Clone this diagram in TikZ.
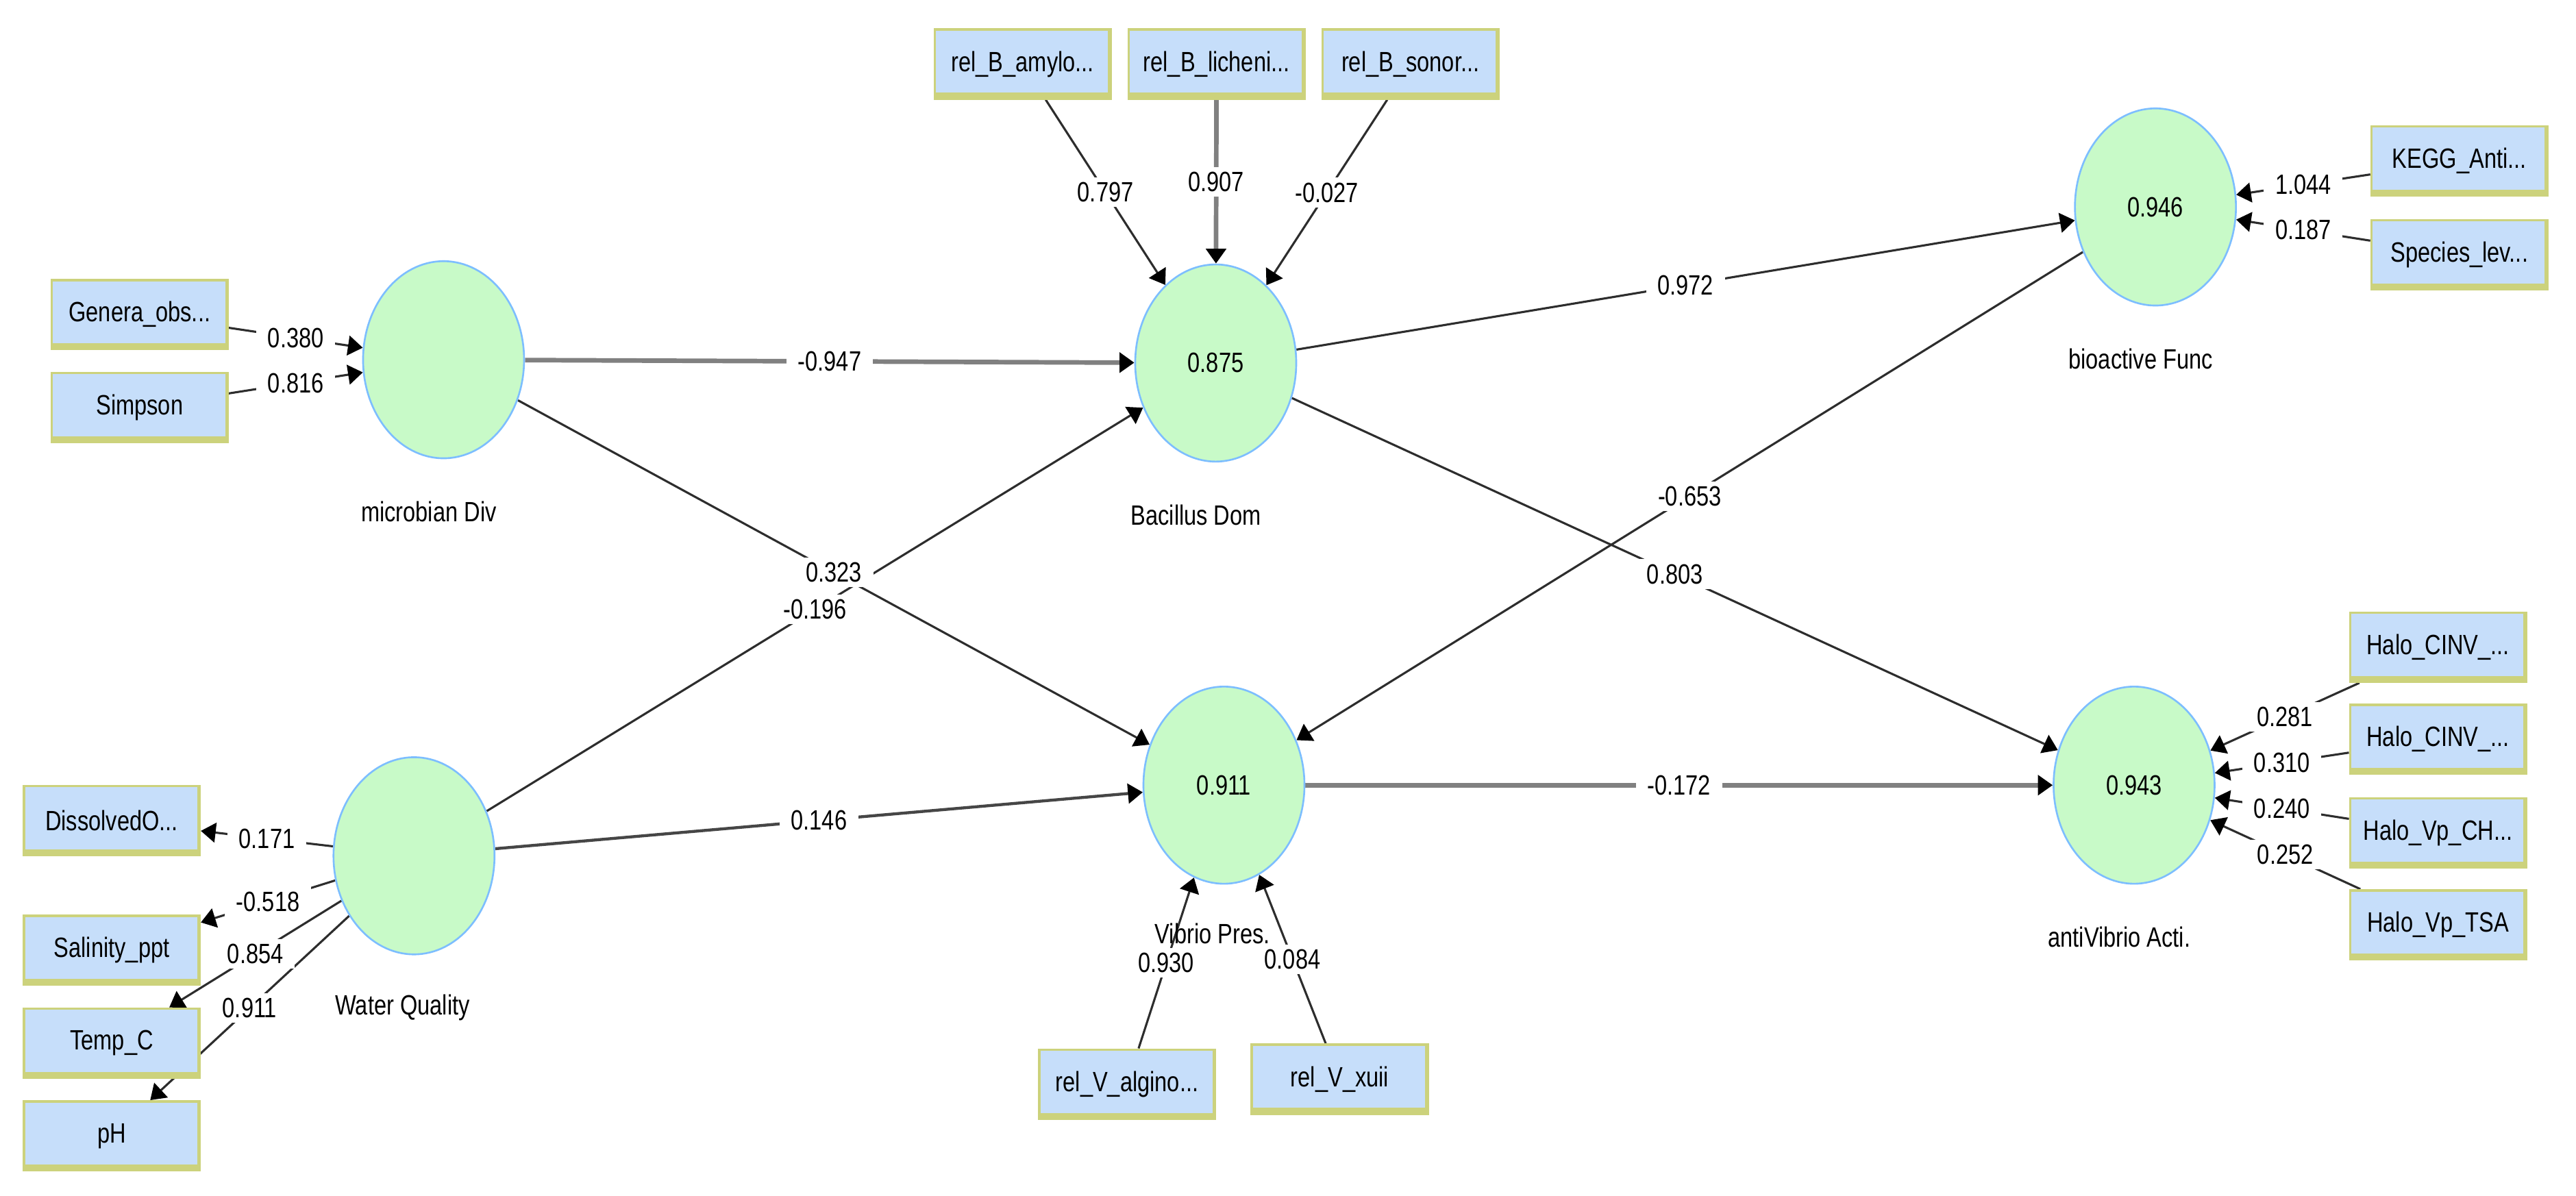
\documentclass[tikz,border=0pt]{standalone}
\usepackage{fontspec}
\setmainfont{Liberation Sans}[FakeStretch=0.8]
\usetikzlibrary{arrows.meta,calc,shapes.geometric}
\definecolor{lvfill}{RGB}{200,250,200}
\definecolor{lvdraw}{RGB}{125,190,255}
\definecolor{mvfill}{RGB}{198,222,250}
\definecolor{mvdraw}{RGB}{204,210,124}
\definecolor{lnthincol}{RGB}{45,45,45}
\definecolor{lnmedcol}{RGB}{70,70,70}
\definecolor{lnthickcol}{RGB}{128,128,128}
\pgfdeclarelayer{bg}
\pgfdeclarelayer{edges}
\pgfsetlayers{bg,edges,main}
\newcommand\plsedge[4]{%
  \begin{pgfonlayer}{edges}\draw[#1] (#2) -- (#3);\end{pgfonlayer}
  \path (#2) -- node[lbl]{#4} (#3);}
\begin{document}
\begin{tikzpicture}[x=1pt,y=-1pt,font=\fontsize{17}{20}\selectfont,
  lv/.style={ellipse, draw=lvdraw, line width=1.1pt, fill=lvfill, minimum width=98pt, minimum height=120pt, inner sep=0pt},
  mv/.style={rectangle, draw=mvdraw, line width=1.5pt, fill=mvfill, minimum width=107pt, minimum height=42pt, inner sep=0pt,
    path picture={\fill[mvdraw] ([yshift=3.5pt]path picture bounding box.south west) rectangle (path picture bounding box.south east);
                  \fill[mvdraw] ([xshift=-1.5pt]path picture bounding box.north east) rectangle (path picture bounding box.south east);}},
  lvname/.style={inner sep=1pt},
  lbl/.style={fill=white, inner xsep=7pt, inner ysep=3pt},
  tipstyle/.style={-{Triangle[width=12pt,length=9pt,color=black]}},
  lnthin/.style={tipstyle, draw=lnthincol, line width=1.3pt},
  lnmed/.style={tipstyle, draw=lnmedcol, line width=1.8pt},
  lnthick/.style={tipstyle, draw=lnthickcol, line width=2.8pt}]

\begin{pgfonlayer}{bg}
  \fill[white] (0,0) rectangle (1568,728);
\end{pgfonlayer}
\useasboundingbox (0,0) rectangle (1568,728);

% latent variables
\node[lv] (micro) at (270,219) {};
\node[lv] (bac)   at (740,221) {0.875};
\node[lv] (bio)   at (1312,126) {0.946};
\node[lv] (vib)   at (745,478) {0.911};
\node[lv] (water) at (252,521) {};
\node[lv] (anti)  at (1299,478) {0.943};

\node[lvname] (microname) at ($(micro.south)+(-9,32)$) {microbian Div};
\node[lvname] (bacname)   at ($(bac.south)+(-12,32)$) {Bacillus Dom};
\node[lvname] (bioname)   at ($(bio.south)+(-9,32)$) {bioactive Func};
\node[lvname] (vibname)   at ($(vib.south)+(-7,30)$) {Vibrio Pres.};
\node[lvname] (watername) at ($(water.south)+(-7,32)$) {Water Quality};
\node[lvname] (antiname)  at ($(anti.south)+(-9,32)$) {antiVibrio Acti.};

% indicators
\node[mv] (genera)  at (85,191.5) {Genera\_obs...};
\node[mv] (simpson) at (85,248) {Simpson};
\node[mv] (amylo)   at (622.5,39) {rel\_B\_amylo...};
\node[mv] (lichen)  at (740.5,39) {rel\_B\_licheni...};
\node[mv] (sonor)   at (858.5,39) {rel\_B\_sonor...};
\node[mv] (kegg)    at (1497,98) {KEGG\_Anti...};
\node[mv] (species) at (1497,155) {Species\_lev...};
\node[mv] (halo1)   at (1484,394) {Halo\_CINV\_...};
\node[mv] (halo2)   at (1484,450) {Halo\_CINV\_...};
\node[mv] (halo3)   at (1484,507) {Halo\_Vp\_CH...};
\node[mv] (halo4)   at (1484,563) {Halo\_Vp\_TSA};
\node[mv] (algino)  at (686,660) {rel\_V\_algino...};
\node[mv] (xuii)    at (815.5,657) {rel\_V\_xuii};
\node[mv] (diss)    at (68,499.5) {DissolvedO...};
\node[mv] (sal)     at (68,578.5) {Salinity\_ppt};
\node[mv] (temp)    at (68,635) {Temp\_C};
\node[mv] (ph)      at (68,691.5) {pH};

% measurement model
\plsedge{lnthin}{genera}{micro}{0.380}
\plsedge{lnthin}{simpson}{micro}{0.816}
\plsedge{lnthin}{amylo}{bac}{0.797}
\plsedge{lnthick}{lichen}{bac}{0.907}
\plsedge{lnthin}{sonor}{bac}{-0.027}
\plsedge{lnthin}{kegg}{bio}{1.044}
\plsedge{lnthin}{species}{bio}{0.187}
\plsedge{lnthin}{halo1}{anti}{0.281}
\plsedge{lnthin}{halo2}{anti}{0.310}
\plsedge{lnthin}{halo3}{anti}{0.240}
\plsedge{lnthin}{halo4}{anti}{0.252}
\plsedge{lnthin}{algino}{vib}{0.930}
\plsedge{lnthin}{xuii}{vib}{0.084}
\plsedge{lnthin}{water}{diss}{0.171}
\plsedge{lnthin}{water}{sal}{-0.518}
\plsedge{lnthin}{water}{temp}{0.854}
\plsedge{lnthin}{water}{ph}{0.911}

% structural model
\plsedge{lnthick}{micro}{bac}{-0.947}
\plsedge{lnthin}{micro}{vib}{0.323}
\plsedge{lnthin}{water}{bac}{-0.196}
\plsedge{lnmed}{water}{vib}{0.146}
\plsedge{lnthin}{bac}{bio}{0.972}
\plsedge{lnthin}{bac}{anti}{0.803}
\plsedge{lnthin}{bio}{vib}{-0.653}
\plsedge{lnthick}{vib}{anti}{-0.172}
\end{tikzpicture}
\end{document}
